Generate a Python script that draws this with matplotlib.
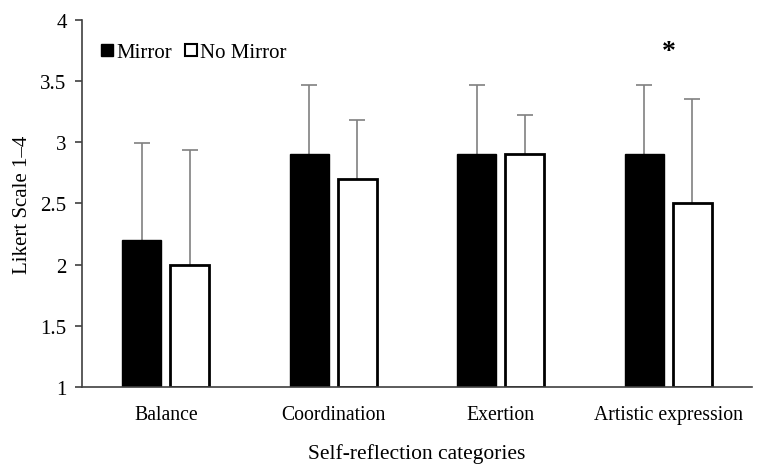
import numpy as np
import matplotlib.pyplot as plt
from matplotlib.lines import Line2D

plt.rcParams['font.family'] = ['Liberation Serif', 'DejaVu Serif']

# --- data
categories = ['Balance', 'Coordination', 'Exertion', 'Artistic expression']
mirror = [2.2, 2.9, 2.9, 2.9]
mirror_err = [0.79, 0.57, 0.57, 0.57]
no_mirror = [2.0, 2.7, 2.9, 2.5]
no_mirror_err = [0.94, 0.48, 0.32, 0.85]
star_idx = 3
star_y = 3.74

x = np.arange(len(categories))
w = 0.233
off = 0.143
grey = '#808080'

fig = plt.figure(figsize=(7.66, 4.77), dpi=100)
ax = fig.add_axes([0.107, 0.187, 0.875, 0.769])

for xs, vals, errs in [(x - off, mirror, mirror_err), (x + off, no_mirror, no_mirror_err)]:
    vals = np.array(vals)
    errs = np.array(errs)
    # upper-only error bars: stem, then cap at top
    ax.errorbar(xs, vals, yerr=[np.zeros(len(vals)), errs], fmt='none',
                ecolor=grey, elinewidth=1.2, capsize=0, zorder=1)
    ax.plot(xs, vals + errs, ls='none', marker='_', markersize=12,
            markeredgewidth=1.2, color=grey, zorder=1)

ax.bar(x - off, np.array(mirror) - 1, w, bottom=1, color='black', edgecolor='black', zorder=2)
ax.bar(x + off, np.array(no_mirror) - 1, w, bottom=1, color='white', edgecolor='black',
       linewidth=2, zorder=2)

ax.text(x[star_idx], star_y, '*', ha='center', va='center', fontsize=20, fontweight='bold')

ax.set_xlim(-0.5, len(categories) - 0.5)
ax.set_ylim(1, 4)
ax.set_yticks([1, 1.5, 2, 2.5, 3, 3.5, 4])
ax.set_yticklabels(['1', '1.5', '2', '2.5', '3', '3.5', '4'], fontsize=15)
ax.set_xticks(x)
ax.set_xticklabels(categories, fontsize=14.2)
ax.tick_params(axis='x', length=0, pad=13)
ax.tick_params(axis='y', direction='out', length=5, width=1.2, color='#404040', pad=6)
ax.spines['top'].set_visible(False)
ax.spines['right'].set_visible(False)
for s in ['left', 'bottom']:
    ax.spines[s].set_linewidth(1.2)
    ax.spines[s].set_color('#404040')

ax.set_xlabel('Self-reflection categories', fontsize=15.5, labelpad=14)
ax.set_ylabel('Likert Scale 1\u20134', fontsize=15, labelpad=6)

handles = [Line2D([], [], marker='s', color='none', markerfacecolor='black',
                  markeredgecolor='black', markersize=9),
           Line2D([], [], marker='s', color='none', markerfacecolor='white',
                  markeredgecolor='black', markeredgewidth=1.5, markersize=9)]
ax.legend(handles, ['Mirror', 'No Mirror'], loc='upper left', bbox_to_anchor=(0.0, 0.99),
          ncol=2, frameon=False, fontsize=15, handlelength=0.6, handletextpad=0.15,
          columnspacing=0.6, borderaxespad=0.5)

fig.savefig('out.png', dpi=100)
